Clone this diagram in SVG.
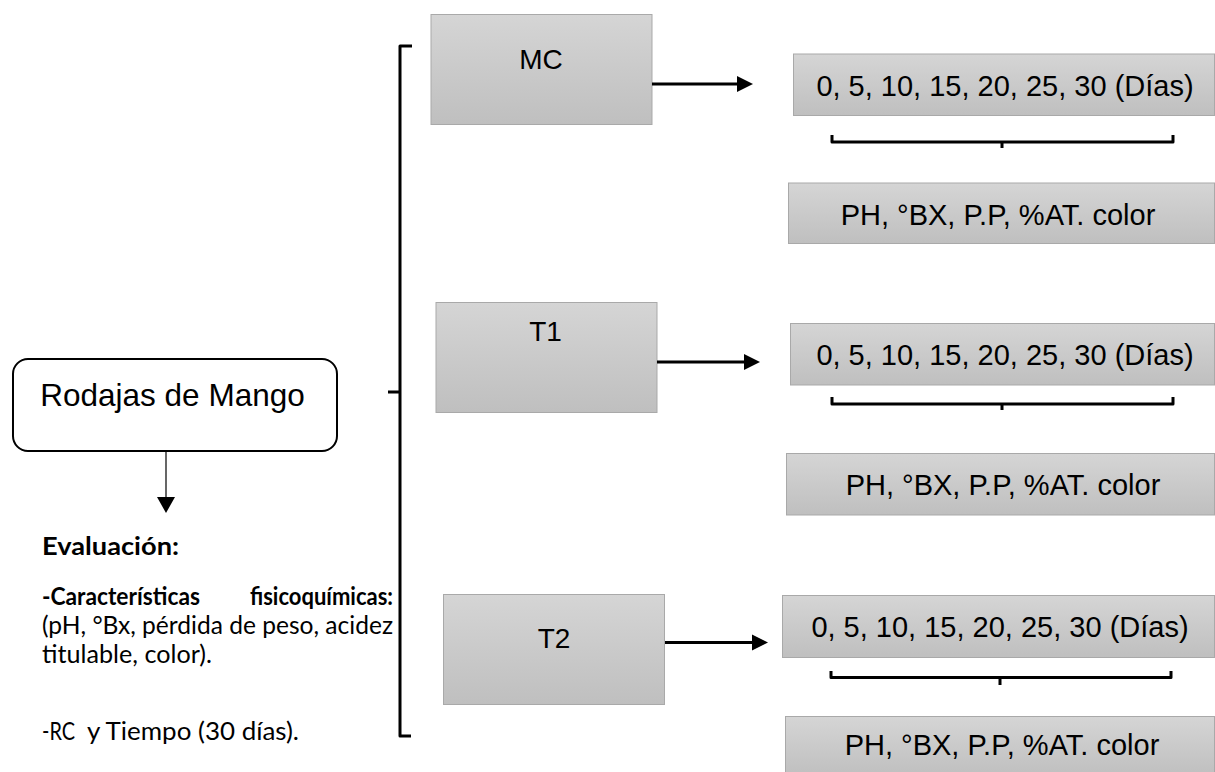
<svg xmlns="http://www.w3.org/2000/svg" width="1215" height="772" viewBox="0 0 1215 772">
<style>
.box{fill:url(#g);stroke:#a9a9a9;stroke-width:1}
.t{font-family:"Liberation Sans",Arial,sans-serif;fill:#000}
.c{font-family:Lato,"Open Sans",sans-serif;fill:#000;font-size:25.5px}
.b{font-weight:bold}
.ln{fill:none;stroke:#000;stroke-width:3;stroke-linejoin:round;stroke-linecap:butt}
.ar{fill:none;stroke:#000;stroke-width:3}
</style>
<defs>
<linearGradient id="g" x1="0" y1="0" x2="0" y2="1">
<stop offset="0" stop-color="#d5d5d5"/>
<stop offset="1" stop-color="#bfbfbf"/>
</linearGradient>
</defs>
<rect width="1215" height="772" fill="#fff"/>

<g id="rodajas">
<rect x="13" y="359" width="324" height="92" rx="15" ry="15" fill="#fff" stroke="#000" stroke-width="2"/>
<text class="t" x="172.5" y="406" font-size="31.5" text-anchor="middle">Rodajas de Mango</text>
</g>

<g id="evaluacion">
<text class="c b" x="42" y="555" textLength="137" lengthAdjust="spacingAndGlyphs">Evaluación:</text>
<text class="c b" x="42" y="605" textLength="158" lengthAdjust="spacingAndGlyphs">-Características</text>
<text class="c b" x="250" y="605" textLength="143" lengthAdjust="spacingAndGlyphs">fisicoquímicas:</text>
<text class="c" x="42" y="634" textLength="351" lengthAdjust="spacingAndGlyphs">(pH, °Bx, pérdida de peso, acidez</text>
<text class="c" x="42" y="663" textLength="170" lengthAdjust="spacingAndGlyphs">titulable, color).</text>
<text class="c" x="42" y="740"><tspan textLength="33" lengthAdjust="spacingAndGlyphs">-RC</tspan><tspan x="87" textLength="212" lengthAdjust="spacingAndGlyphs">y Tiempo (30 días).</tspan></text>
</g>

<g id="mc">
<rect class="box" x="431" y="14.5" width="221" height="110"/>
<text class="t" x="541" y="68.5" font-size="28" text-anchor="middle">MC</text>
</g>
<g id="t1">
<rect class="box" x="436" y="302.5" width="221" height="110"/>
<text class="t" x="545.5" y="341" font-size="28" text-anchor="middle">T1</text>
</g>
<g id="t2">
<rect class="box" x="443.5" y="594.5" width="221" height="110"/>
<text class="t" x="554" y="648" font-size="28" text-anchor="middle">T2</text>
</g>

<g id="dias1">
<rect class="box" x="793.5" y="54" width="421" height="61.5"/>
<text class="t" x="1005" y="95.5" font-size="29" text-anchor="middle">0, 5, 10, 15, 20, 25, 30 (Días)</text>
</g>
<g id="param1">
<rect class="box" x="788.5" y="183" width="426" height="60.5"/>
<text class="t" x="998" y="225" font-size="29" text-anchor="middle">PH, °BX, P.P, %AT. color</text>
</g>
<g id="dias2">
<rect class="box" x="790.5" y="323.5" width="424" height="61.5"/>
<text class="t" x="1005" y="365" font-size="29" text-anchor="middle">0, 5, 10, 15, 20, 25, 30 (Días)</text>
</g>
<g id="param2">
<rect class="box" x="786.5" y="453.5" width="428" height="61.5"/>
<text class="t" x="1003" y="495" font-size="29" text-anchor="middle">PH, °BX, P.P, %AT. color</text>
</g>
<g id="dias3">
<rect class="box" x="782.5" y="595.5" width="432" height="62"/>
<text class="t" x="1000" y="637" font-size="29" text-anchor="middle">0, 5, 10, 15, 20, 25, 30 (Días)</text>
</g>
<g id="param3">
<rect class="box" x="785.5" y="716.5" width="429" height="60"/>
<text class="t" x="1002" y="755" font-size="29" text-anchor="middle">PH, °BX, P.P, %AT. color</text>
</g>

<g id="connectors">
<line x1="166" y1="452" x2="166" y2="498" stroke="#000" stroke-width="1.2"/>
<path d="M157,497 L175,497 L166,513 Z" fill="#000"/>
<path class="ln" d="M412,46 L400,46 L400,736 L411,736 M400,392 L388,392"/>
<line class="ar" x1="652" y1="84" x2="738" y2="84"/>
<path d="M737,76 L753,84 L737,92 Z" fill="#000"/>
<line class="ar" x1="657" y1="362" x2="745" y2="362"/>
<path d="M744,354 L760,362 L744,370 Z" fill="#000"/>
<line class="ar" x1="665" y1="642.5" x2="753" y2="642.5"/>
<path d="M752,634.5 L768,642.5 L752,650.5 Z" fill="#000"/>
<path class="ln" d="M832,135 L832,142 L1173,142 L1173,135 M1002,142 L1002,148"/>
<path class="ln" d="M832,397 L832,404 L1173,404 L1173,397 M1002,404 L1002,410"/>
<path class="ln" d="M831,671 L831,677.5 L1171,677.5 L1171,671 M1000,677.5 L1000,685"/>
</g>
</svg>
